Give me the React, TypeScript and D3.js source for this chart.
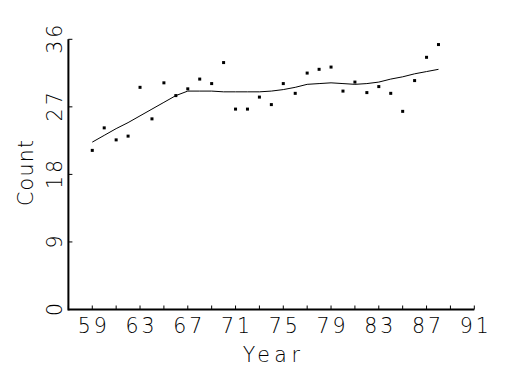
import React from "react";
import * as d3 from "d3";

const years = [59, 60, 61, 62, 63, 64, 65, 66, 67, 68, 69, 70, 71, 72, 73, 74, 75, 76, 77, 78, 79, 80, 81, 82, 83, 84, 85, 86, 87, 88];
const counts = [21.2, 24.2, 22.6, 23.1, 29.6, 25.4, 30.2, 28.5, 29.4, 30.7, 30.1, 32.9, 26.7, 26.7, 28.3, 27.3, 30.1, 28.8, 31.5, 32.0, 32.3, 29.1, 30.3, 28.9, 29.7, 28.8, 26.4, 30.5, 33.6, 35.3];
const smooth = [22.3, 23.2, 24.1, 24.9, 25.8, 26.7, 27.6, 28.5, 29.1, 29.1, 29.1, 29.0, 29.0, 29.0, 29.0, 29.1, 29.3, 29.6, 30.0, 30.1, 30.2, 30.1, 30.0, 30.1, 30.3, 30.7, 31.0, 31.4, 31.7, 32.0];
const xTickLabels = [59, 63, 67, 71, 75, 79, 83, 87, 91];
const xMinorTicks = [57, 59, 61, 63, 65, 67, 69, 71, 73, 75, 77, 79, 81, 83, 85, 87, 89, 91];
const yTickLabels = [0, 9, 18, 27, 36];

const W = 525;
const H = 375;
const FONT = "'DejaVu Sans', sans-serif";

export default function App() {
  const x = d3.scaleLinear().domain([57, 91]).range([68.4, 474.3]);
  const y = d3.scaleLinear().domain([0, 36]).range([309.5, 39.3]);
  const line = d3
    .line<number>()
    .x((_, i) => x(years[i]))
    .y((d) => y(d));
  const x0 = x(57);
  const y0 = y(0);
  return (
    <svg
      width={W}
      height={H}
      style={{ position: "absolute", left: 0, top: 0, background: "#fff" }}
      fontFamily={FONT}
      fontWeight={200}
    >
      <rect x={0} y={0} width={W} height={H} fill="#fff" />
      {/* axes */}
      <line x1={x0} x2={x(91)} y1={y0} y2={y0} stroke="#000" strokeWidth={2} />
      <line x1={x0} x2={x0} y1={y0 + 1} y2={y(36)} stroke="#000" strokeWidth={2} />
      {xMinorTicks.map((t) => (
        <line key={"xt" + t} x1={x(t)} x2={x(t)} y1={y0} y2={y0 - 4} stroke="#000" strokeWidth={1} />
      ))}
      {yTickLabels.map((t) => (
        <line key={"yt" + t} x1={x0} x2={x0 + 4} y1={y(t)} y2={y(t)} stroke="#000" strokeWidth={1} />
      ))}
      {xTickLabels.map((t) => (
        <text key={"xl" + t} x={x(t) + 1.5} y={333.3} textAnchor="middle" fontSize={20.5} letterSpacing={3} fill="#000">
          {t}
        </text>
      ))}
      {yTickLabels.map((t) => (
        <text
          key={"yl" + t}
          transform={`translate(62, ${y(t) - 1.5}) rotate(-90)`}
          textAnchor="middle"
          fontSize={20.5}
          letterSpacing={3}
          fill="#000"
        >
          {t}
        </text>
      ))}
      <text x={(x0 + x(91)) / 2} y={361.7} textAnchor="middle" fontSize={20.5} textLength={57} lengthAdjust="spacing" fill="#000">
        Year
      </text>
      <text
        transform={`translate(32.5, 173) rotate(-90)`}
        textAnchor="middle"
        fontSize={20.5}
        textLength={66}
        lengthAdjust="spacing"
        fill="#000"
      >
        Count
      </text>
      {/* smooth line */}
      <path d={line(smooth) || ""} fill="none" stroke="#000" strokeWidth={1} />
      {/* points */}
      {counts.map((c, i) => (
        <rect key={"p" + i} x={x(years[i]) - 1.5} y={y(c) - 1.5} width={3} height={3} fill="#000" />
      ))}
    </svg>
  );
}
